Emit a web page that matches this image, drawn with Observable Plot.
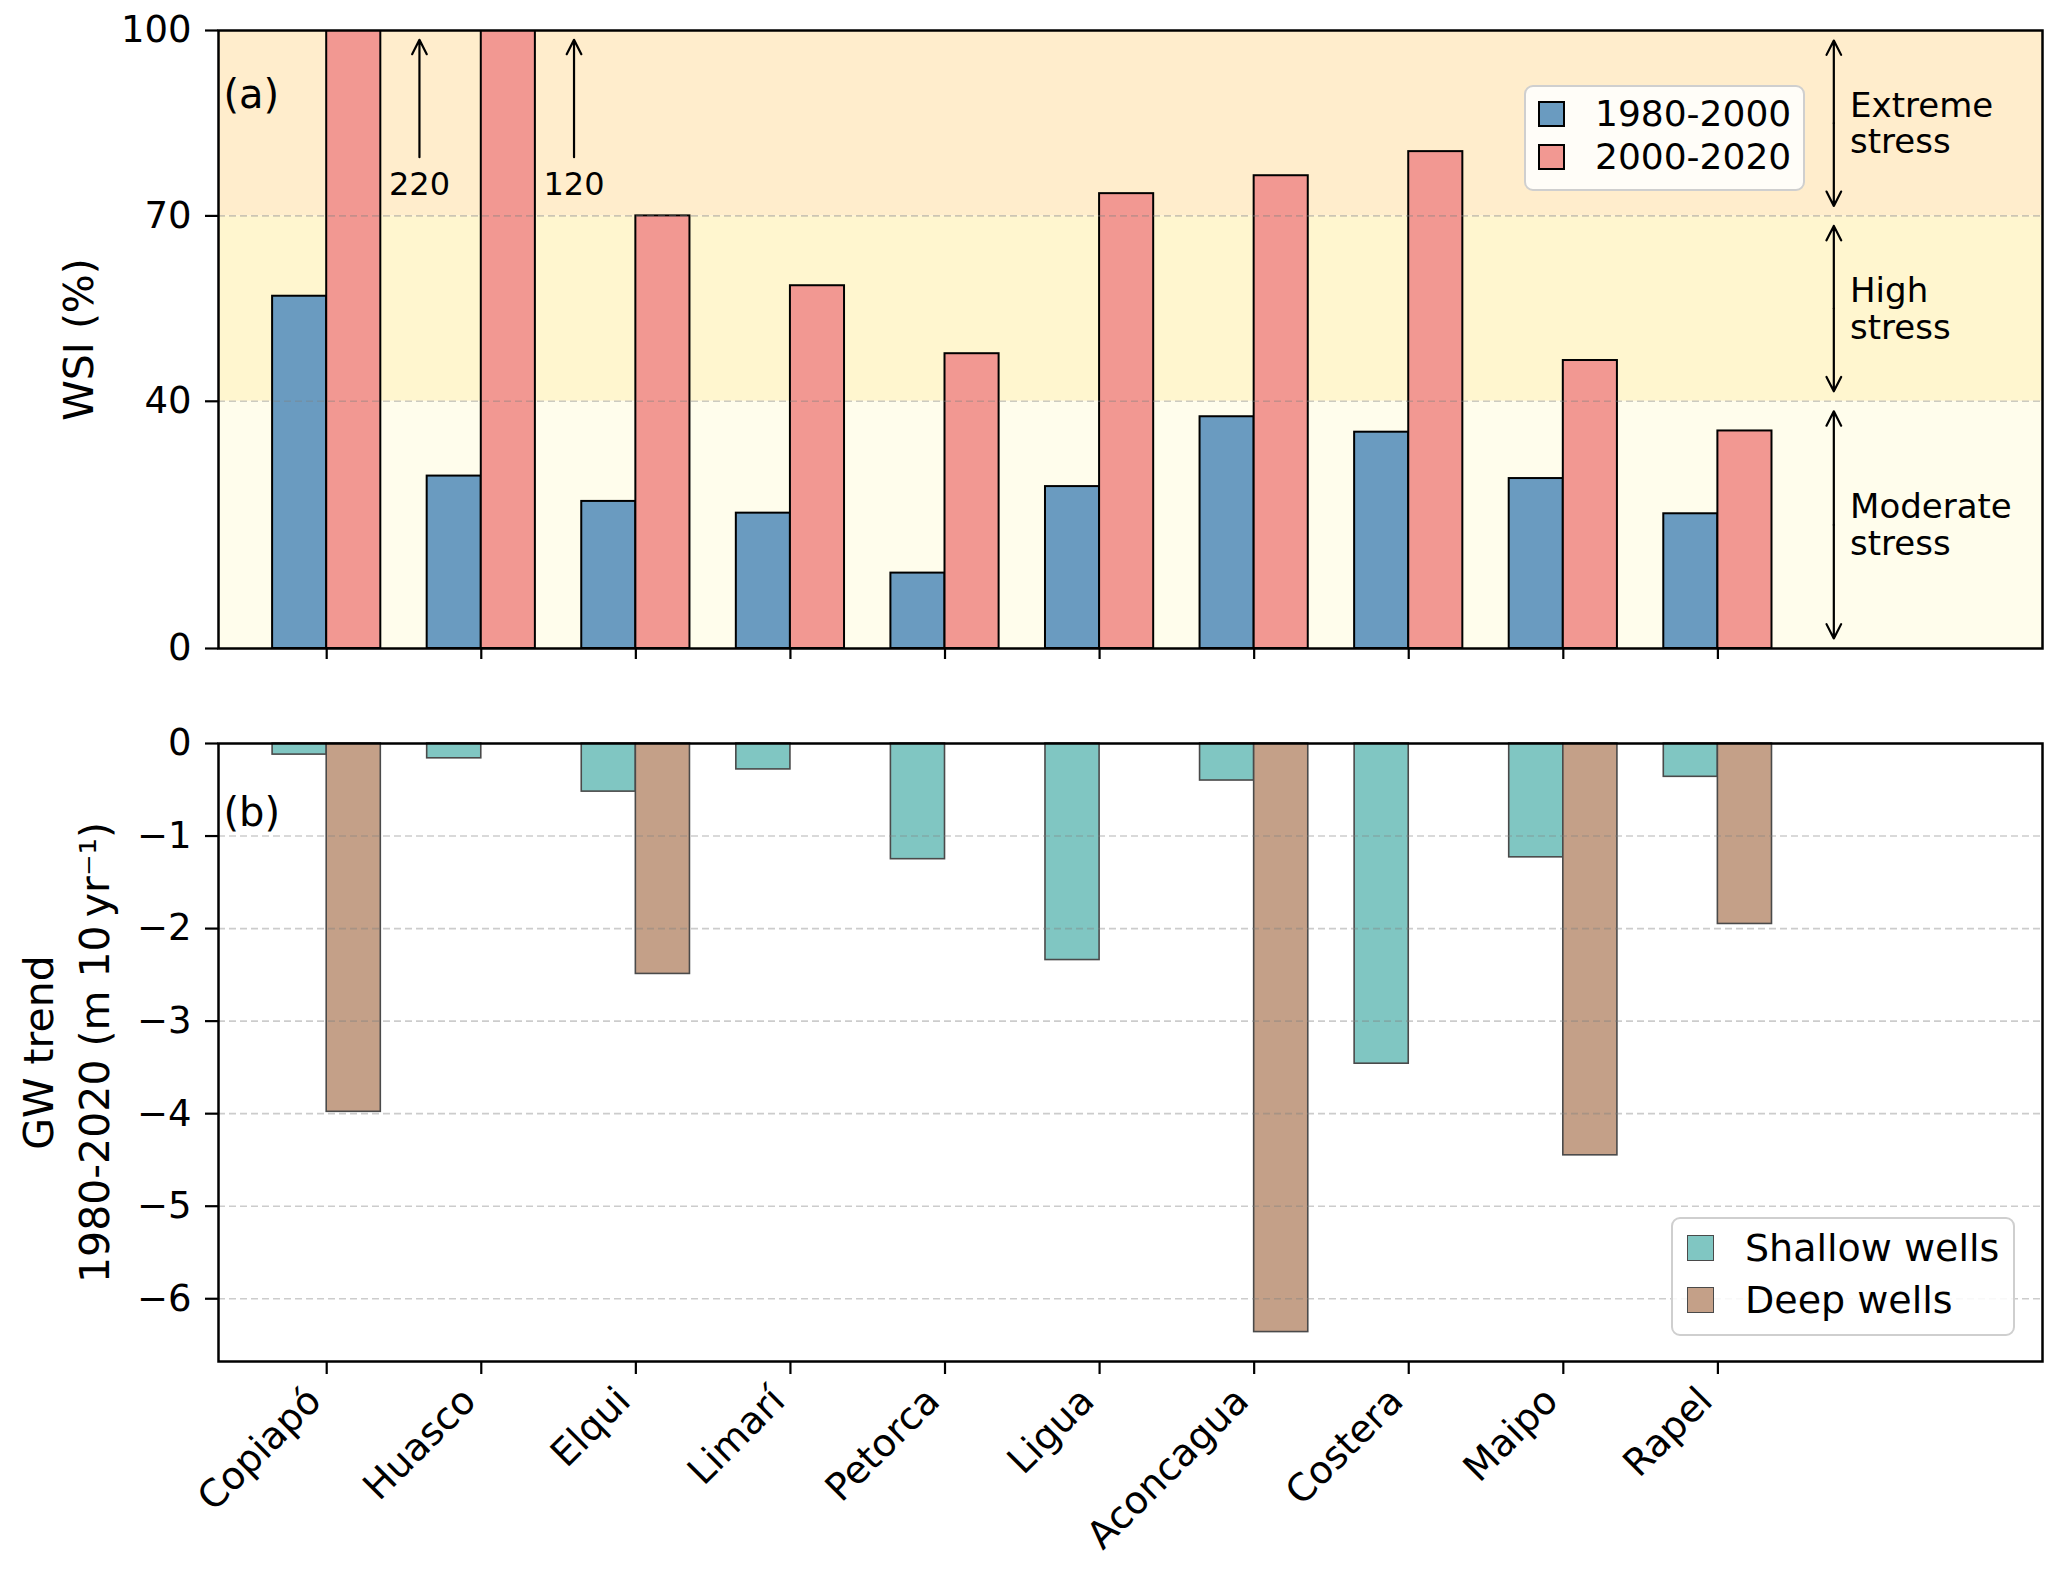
<!DOCTYPE html>
<html><head><meta charset="utf-8">
<script src="https://cdn.jsdelivr.net/npm/d3@7"></script>
<script src="https://cdn.jsdelivr.net/npm/@observablehq/plot@0.6"></script>
<style>
body{margin:0;background:#fff;font-family:"DejaVu Sans",sans-serif;}
#wrap{position:relative;width:2067px;height:1575px;overflow:hidden;}
#wrap svg{display:block;}
.lbox{position:absolute;background:rgba(255,255,255,0.85);border:2.5px solid #cfcfcf;border-radius:9px;box-sizing:border-box;}
.sw{position:absolute;width:27px;height:26px;box-sizing:border-box;}
.lt{position:absolute;font-family:"DejaVu Sans";line-height:40px;height:40px;white-space:nowrap;color:#000;}
</style></head><body><div id="wrap"></div>
<script>
// ---- data ----
const basins = ["Copiapó","Huasco","Elqui","Limarí","Petorca","Ligua","Aconcagua","Costera","Maipo","Rapel"];
const wsi1980_2000 = [57.0, 27.9, 23.8, 21.9, 12.2, 26.2, 37.5, 35.0, 27.5, 21.8];
const wsi2000_2020 = [220, 120, 70.0, 58.7, 47.7, 73.6, 76.5, 80.4, 46.6, 35.2];
const gwShallow = [-0.12, -0.16, -0.52, -0.28, -1.25, -2.34, -0.40, -3.46, -1.23, -0.36];
const gwDeep = [-3.98, null, -2.49, null, null, null, -6.36, null, -4.45, -1.95];
const stressNames = ["Moderate\nstress", "High\nstress", "Extreme\nstress"];
const stressBounds = [0, 40, 70, 100];
const yTicksA = [0, 40, 70, 100];
const yTicksB = [0, -1, -2, -3, -4, -5, -6];
const seriesA = ["1980-2000", "2000-2020"];
const seriesB = ["Shallow wells", "Deep wells"];

// ---- styles ----
const C = {blue:"#6A9BC0", red:"#F29892", teal:"#80C6C2", brown:"#C4A088"};
const bandFill = ["#FFFDEC", "#FFF6CF", "#FFEDCC"];
const FONT = "DejaVu Sans";
const W = 2067, ML = 218, MR = 25;
const XD = [-0.7, 11.1];
const BW = 0.35;

const idx = d3.range(basins.length);
const rowsA = idx.map(i => ({i, a: wsi1980_2000[i], b: wsi2000_2020[i]}));
const rowsB = idx.map(i => ({i, s: gwShallow[i], d: gwDeep[i]}));
const levels = stressNames.map((name, k) => ({name, lo: stressBounds[k], hi: stressBounds[k+1], fill: bandFill[k]}));
const overflow = rowsA.filter(d => d.b > 100);
const grid = {stroke:"#808080", strokeOpacity:0.4, strokeDasharray:"7,4", strokeWidth:1.6};

const topPlot = Plot.plot({
  width: W, height: 700, marginLeft: ML, marginRight: MR, marginTop: 30, marginBottom: 52,
  x: {domain: XD},
  y: {domain: [0, 100]},
  color: {type: "identity"},
  style: {fontFamily: FONT, fontSize: "37px", background: "transparent", overflow: "visible"},
  marks: [
    Plot.rectY(levels, {y1: "lo", y2: "hi", fill: "fill"}),
    Plot.rectY(rowsA, {x1: d => d.i - BW, x2: d => d.i, y1: () => 0, y2: "a", fill: C.blue, stroke: "black", strokeWidth: 2, clip: true}),
    Plot.rectY(rowsA, {x1: d => d.i, x2: d => d.i + BW, y1: () => 0, y2: "b", fill: C.red, stroke: "black", strokeWidth: 2, clip: true}),
    Plot.ruleY(stressBounds.slice(1, 3), grid),
    Plot.arrow(levels, {x1: () => 9.75, x2: () => 9.75, y1: d => (d.lo + d.hi) / 2, y2: "hi", insetEnd: 10, headLength: 11, headAngle: 54, strokeWidth: 2.2, stroke: "black"}),
    Plot.arrow(levels, {x1: () => 9.75, x2: () => 9.75, y1: d => (d.lo + d.hi) / 2, y2: "lo", insetEnd: 10, headLength: 11, headAngle: 54, strokeWidth: 2.2, stroke: "black"}),
    Plot.text(levels, {x: () => 9.855, y: d => (d.lo + d.hi) / 2, text: "name", textAnchor: "start", lineAnchor: "middle", fontSize: 34, lineHeight: 1.08, fill: "black"}),
    Plot.arrow(overflow, {x1: d => d.i + 0.6, x2: d => d.i + 0.6, y1: () => 79.5, y2: () => 98.5, headLength: 11, headAngle: 54, strokeWidth: 2.2, stroke: "black"}),
    Plot.text(overflow, {x: d => d.i + 0.6, y: () => 75, text: d => String(d.b), fontSize: 32, lineAnchor: "middle", fill: "black"}),
    Plot.text(["(a)"], {text: d => d, frameAnchor: "top-left", dx: 5, dy: 65, lineAnchor: "middle", fontSize: 40, fill: "black"}),
    Plot.text(["WSI (%)"], {text: d => d, frameAnchor: "left", textAnchor: "middle", rotate: -90, dx: -(ML - 79), fontSize: 41, fill: "black"}),
    Plot.axisY(yTicksA, {tickSize: 13, tickPadding: 14, fontSize: 37, strokeWidth: 2.2, label: null}),
    Plot.axisX(idx, {tickSize: 11, tickFormat: () => "", strokeWidth: 2.2, label: null}),
    Plot.frame({stroke: "black", strokeWidth: 2.5})
  ]
});

const yMinB = d3.min([...gwShallow, ...gwDeep.filter(v => v != null)]) * 1.05;
const minus = v => v < 0 ? "\u2212" + Math.abs(v) : String(v);

const botPlot = Plot.plot({
  width: W, height: 875, marginLeft: ML, marginRight: MR, marginTop: 43, marginBottom: 214,
  x: {domain: XD},
  y: {domain: [yMinB, 0]},
  style: {fontFamily: FONT, fontSize: "37px", background: "transparent", overflow: "visible"},
  marks: [
    Plot.rectY(rowsB, {x1: d => d.i - BW, x2: d => d.i, y1: () => 0, y2: "s", fill: C.teal, stroke: "#4a4a4a", strokeWidth: 1.6}),
    Plot.rectY(rowsB.filter(d => d.d != null), {x1: d => d.i, x2: d => d.i + BW, y1: () => 0, y2: "d", fill: C.brown, stroke: "#4a4a4a", strokeWidth: 1.6}),
    Plot.ruleY(yTicksB.slice(1), grid),
    Plot.text(["(b)"], {text: d => d, frameAnchor: "top-left", dx: 5, dy: 70, lineAnchor: "middle", fontSize: 40, fill: "black"}),
    Plot.text(["GW trend"], {text: d => d, frameAnchor: "left", textAnchor: "middle", rotate: -90, dx: -(ML - 39), fontSize: 41, fill: "black"}),
    Plot.text(["1980-2020 (m 10\u2009yr\u207B\u00B9)"], {text: d => d, frameAnchor: "left", textAnchor: "middle", rotate: -90, dx: -(ML - 95), fontSize: 41, fill: "black"}),
    Plot.axisY(yTicksB, {tickSize: 13, tickPadding: 14, fontSize: 37, strokeWidth: 2.2, tickFormat: minus, label: null}),
    Plot.axisX(idx, {tickSize: 13, tickFormat: () => "", strokeWidth: 2.2, label: null}),
    Plot.axisX(idx, {tickSize: 0, tickPadding: 27, tickRotate: -45, dx: -12, dy: 6, tickFormat: i => basins[i], fontSize: 38, label: null}),
    Plot.frame({stroke: "black", strokeWidth: 2.5})
  ]
});

const wrap = document.getElementById("wrap");
wrap.appendChild(topPlot);
wrap.appendChild(botPlot);

function legend(box, rows) {
  const b = document.createElement("div");
  b.className = "lbox";
  Object.assign(b.style, {left: box.x + "px", top: box.y + "px", width: box.w + "px", height: box.h + "px"});
  wrap.appendChild(b);
  rows.forEach(r => {
    const s = document.createElement("div");
    s.className = "sw";
    Object.assign(s.style, {left: box.sx + "px", top: (r.cy - 13) + "px", background: r.fill, border: r.border});
    wrap.appendChild(s);
    const t = document.createElement("div");
    t.className = "lt";
    t.textContent = r.label;
    Object.assign(t.style, {left: box.tx + "px", top: (r.cy - 20) + "px", fontSize: box.fs + "px"});
    wrap.appendChild(t);
  });
}
legend({x: 1524, y: 85, w: 281, h: 106, sx: 1538, tx: 1595, fs: 36}, [
  {label: seriesA[0], fill: C.blue, border: "2px solid #000", cy: 114},
  {label: seriesA[1], fill: C.red, border: "2px solid #000", cy: 157}
]);
legend({x: 1671, y: 1217, w: 344, h: 119, sx: 1687, tx: 1745, fs: 38}, [
  {label: seriesB[0], fill: C.teal, border: "1.6px solid #4a4a4a", cy: 1248},
  {label: seriesB[1], fill: C.brown, border: "1.6px solid #4a4a4a", cy: 1300}
]);
</script></body></html>
